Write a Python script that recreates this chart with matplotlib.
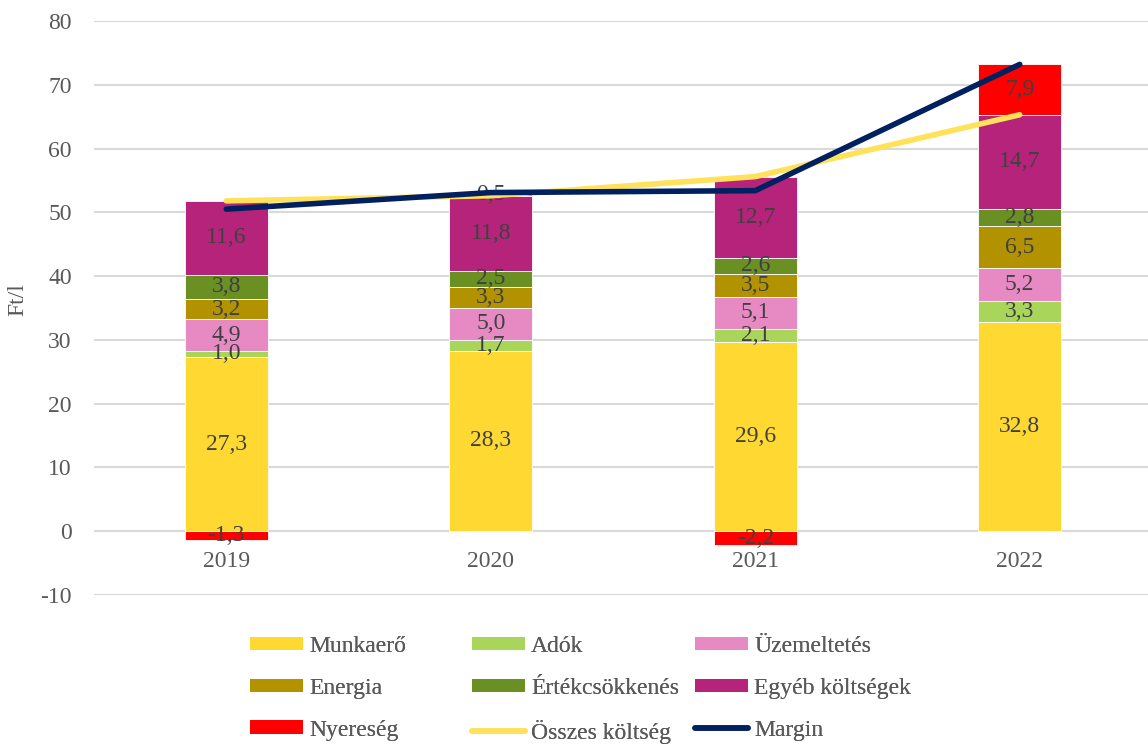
import numpy as np
import matplotlib.pyplot as plt
from matplotlib.patches import Patch
from matplotlib.lines import Line2D

plt.rcParams['font.family'] = ['Liberation Serif', 'DejaVu Serif']
plt.rcParams['axes.unicode_minus'] = False

years = ['2019', '2020', '2021', '2022']
munkaero = [27.3, 28.3, 29.6, 32.8]
adok = [1.0, 1.7, 2.1, 3.3]
uzemeltetes = [4.9, 5.0, 5.1, 5.2]
energia = [3.2, 3.3, 3.5, 6.5]
ertekcsokkenes = [3.8, 2.5, 2.6, 2.8]
egyeb = [11.6, 11.8, 12.7, 14.7]
nyereseg = [-1.3, 0.5, -2.2, 7.9]
osszes_koltseg = [51.8, 52.6, 55.6, 65.3]
margin = [50.5, 53.1, 53.4, 73.2]

cost_names = ['Munkaerő', 'Adók', 'Üzemeltetés', 'Energia', 'Értékcsökkenés', 'Egyéb költségek']
cost_series = [munkaero, adok, uzemeltetes, energia, ertekcsokkenes, egyeb]
cost_colors = ['#FFD932', '#A9D65A', '#E78AC3', '#B39200', '#6A8F22', '#B5247A']
profit_color = '#FF0000'
total_color = '#FFE15A'
margin_color = '#002060'

label_color = '#404040'
tick_color = '#595959'
grid_color = '#D9D9D9'
fs = 17

fig = plt.figure(figsize=(11.48, 7.44), dpi=100)
ax = fig.add_axes([94 / 1148, 1 - 595 / 744, 1058 / 1148, 574 / 744])

x = np.arange(len(years))
width = 0.313

def fmt(v):
    return f'{v:.1f}'.replace('.', ',')

bottom = np.zeros(len(years))
for name, vals, col in zip(cost_names, cost_series, cost_colors):
    vals = np.array(vals)
    bars = ax.bar(x, vals, width, bottom=bottom, color=col, edgecolor='white',
                  linewidth=0.6, zorder=2, label=name)
    ax.bar_label(bars, labels=[fmt(v) for v in vals], label_type='center',
                 color=label_color, fontsize=fs)
    bottom = bottom + vals

profit = np.array(nyereseg)
profit_bottom = np.where(profit > 0, bottom, 0)
bars = ax.bar(x, profit, width, bottom=profit_bottom, color=profit_color,
              edgecolor='white', linewidth=0.6, zorder=2, label='Nyereség')
ax.bar_label(bars, labels=[fmt(v) for v in profit], label_type='center',
             color=label_color, fontsize=fs)

ax.plot(x, osszes_koltseg, color=total_color, lw=4, solid_capstyle='round', zorder=3)
ax.plot(x, margin, color=margin_color, lw=4, solid_capstyle='round', zorder=4)

ax.set_xlim(-0.5, 3.5)
ax.set_ylim(-10, 80)
ax.set_yticks(range(-10, 81, 10))
ax.set_xticks(x)
ax.set_xticklabels(years)
ax.grid(axis='y', color=grid_color, lw=1.5, zorder=0)
ax.set_axisbelow(True)
for s in ['top', 'right', 'left']:
    ax.spines[s].set_visible(False)
ax.spines['bottom'].set_position(('data', 0))
ax.spines['bottom'].set_visible(False)
ax.tick_params(axis='x', length=0, pad=14, labelsize=fs, labelcolor=tick_color)
ax.tick_params(axis='y', length=0, pad=16, labelsize=fs, labelcolor=tick_color)

fig.text(18 / 1148, 1 - 300 / 744, 'Ft/l', rotation=90, ha='center', va='center',
         fontsize=fs, color=tick_color)

# legend, row-wise like the original, built as three columns
def patch(c):
    return Patch(facecolor=c, edgecolor='none')

def line(c):
    return Line2D([0], [0], color=c, lw=4, solid_capstyle='round')

columns = [
    ([patch(cost_colors[0]), patch(cost_colors[3]), patch(profit_color)],
     ['Munkaerő', 'Energia', 'Nyereség'], 250),
    ([patch(cost_colors[1]), patch(cost_colors[4]), line(total_color)],
     ['Adók', 'Értékcsökkenés', 'Összes költség'], 472),
    ([patch(cost_colors[2]), patch(cost_colors[5]), line(margin_color)],
     ['Üzemeltetés', 'Egyéb költségek', 'Margin'], 695),
]
for handles, labels, xpos in columns:
    leg = fig.legend(handles, labels, loc='upper left',
                     bbox_to_anchor=(xpos / 1148, 1 - 636 / 744),
                     frameon=False, fontsize=fs, borderpad=0, borderaxespad=0,
                     handlelength=2.25, handleheight=0.5, handletextpad=0.25,
                     labelspacing=0.88, labelcolor=tick_color)
    fig.add_artist(leg)

fig.savefig('out.png', dpi=100)
